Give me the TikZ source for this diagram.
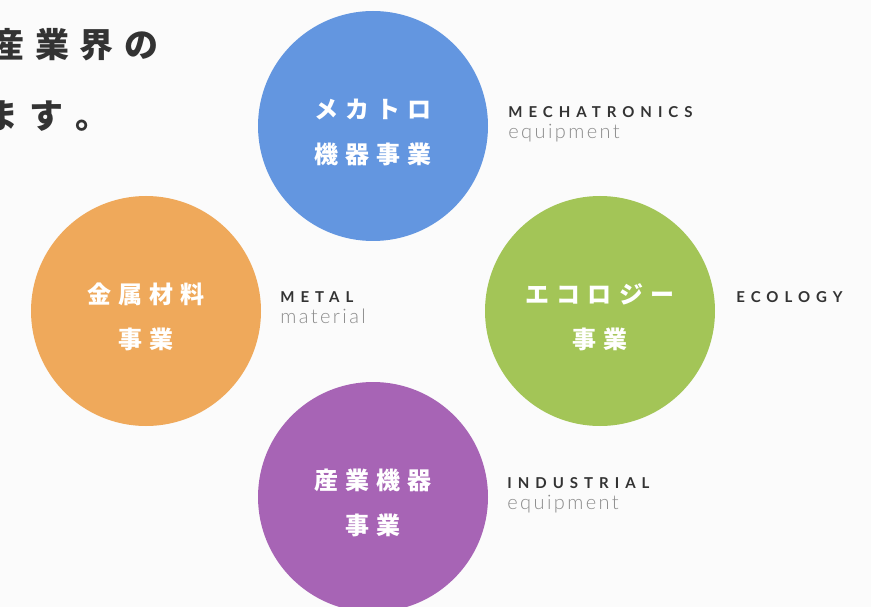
\documentclass[tikz,border=0pt]{standalone}
\usepackage{fontspec}
\usetikzlibrary{positioning}

\newfontfamily\jpfont{Noto Sans CJK JP}[LetterSpace=30]
\newfontfamily\jpwide{Noto Sans CJK JP}[LetterSpace=32]
\newfontfamily\capsfont{Lato}[LetterSpace=40]
\newfontfamily\subfont{Lato Light}[LetterSpace=12]

\definecolor{mechablue}{HTML}{6396E0}
\definecolor{metalorange}{HTML}{EFA95B}
\definecolor{ecogreen}{HTML}{A3C557}
\definecolor{indpurple}{HTML}{A764B5}
\definecolor{ink}{HTML}{333333}
\definecolor{soft}{HTML}{8C8C8C}
\definecolor{paper}{HTML}{FBFBFB}

\tikzstyle{biz}=[circle,minimum size=230pt,inner sep=0pt]
\tikzstyle{bizname}=[text=white,align=center,inner sep=0pt,font=\jpfont\bfseries\fontsize{24}{45}\selectfont]
\tikzstyle{tag}=[text=ink,inner sep=0pt,font=\capsfont\bfseries\fontsize{15}{15}\selectfont]
\tikzstyle{subtag}=[text=soft,inner sep=0pt,font=\subfont\fontsize{20}{20}\selectfont]
\tikzstyle{lead}=[text=ink,inner sep=0pt,anchor=west,font=\jpwide\bfseries\fontsize{34}{34}\selectfont]

\begin{document}
\begin{tikzpicture}[x=1pt,y=-1pt]

\useasboundingbox (0,0) rectangle (871,607);
\clip (0,0) rectangle (871,607);
\fill[paper] (0,0) rectangle (871,607);

% lead text, cut at the left edge
\node[lead] (leadtop) at (-10,45) {産業界の};
\node[lead] (leadbottom) at (-16,116) {ます\kern12pt。};

% the four businesses
\node[biz,fill=mechablue] (mecha) at (373,126) {};
\node[biz,fill=metalorange] (metal) at (146,311) {};
\node[biz,fill=ecogreen] (eco) at (600,311) {};
\node[biz,fill=indpurple] (ind) at (373,497) {};

\node[bizname,yshift=-6pt] (mechaname) at (mecha) {メカトロ\\機器事業};
\node[bizname,yshift=-6pt] (metalname) at (metal) {金属材料\\事業};
\node[bizname,yshift=-6pt] (econame) at (eco) {エコロジー\\事業};
\node[bizname,yshift=-6pt] (indname) at (ind) {産業機器\\事業};

% english labels
\node[tag,right=20pt of mecha,yshift=14pt] (mechatag) {MECHATRONICS};
\node[subtag,below=6pt of mechatag.south west,anchor=north west] (mechasub) {equipment};

\node[tag,right=19pt of metal,yshift=14pt] (metaltag) {METAL};
\node[subtag,below=6pt of metaltag.south west,anchor=north west] (metalsub) {material};

\node[tag,right=21pt of eco,yshift=14pt] (ecotag) {ECOLOGY};

\node[tag,right=19pt of ind,yshift=14pt] (indtag) {INDUSTRIAL};
\node[subtag,below=6pt of indtag.south west,anchor=north west] (indsub) {equipment};

\end{tikzpicture}
\end{document}
